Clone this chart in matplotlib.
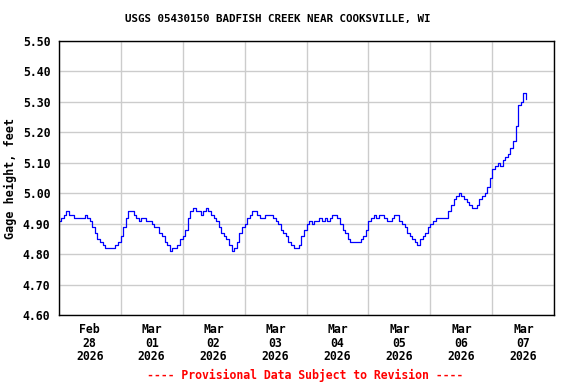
import numpy as np
import pandas as pd
import matplotlib
matplotlib.use("Agg")
import matplotlib.pyplot as plt
import matplotlib.dates as mdates
from matplotlib.ticker import NullFormatter

title = "USGS 05430150 BADFISH CREEK NEAR COOKSVILLE, WI"
ylabel = "Gage height, feet"
note = "---- Provisional Data Subject to Revision ----"

start = "2026-02-28 00:00"
x_range = ("2026-02-28", "2026-03-08")
yticks = [4.60, 4.70, 4.80, 4.90, 5.00, 5.10, 5.20, 5.30, 5.40, 5.50]

# hourly gage height (ft)
gage_ft = [
    # Feb 28
    4.91, 4.92, 4.93, 4.94, 4.93, 4.93, 4.92, 4.92, 4.92, 4.92, 4.93, 4.92,
    4.91, 4.89, 4.87, 4.85, 4.84, 4.83, 4.82, 4.82, 4.82, 4.82, 4.83, 4.84,
    # Mar 01
    4.86, 4.89, 4.92, 4.94, 4.94, 4.93, 4.92, 4.91, 4.92, 4.92, 4.91, 4.91,
    4.90, 4.89, 4.89, 4.87, 4.86, 4.84, 4.83, 4.81, 4.82, 4.82, 4.83, 4.85,
    # Mar 02
    4.86, 4.88, 4.92, 4.94, 4.95, 4.94, 4.94, 4.93, 4.94, 4.95, 4.94, 4.93,
    4.92, 4.91, 4.89, 4.87, 4.86, 4.85, 4.83, 4.81, 4.82, 4.84, 4.87, 4.89,
    # Mar 03
    4.90, 4.92, 4.93, 4.94, 4.94, 4.93, 4.92, 4.92, 4.93, 4.93, 4.93, 4.92,
    4.91, 4.90, 4.88, 4.87, 4.86, 4.84, 4.83, 4.82, 4.82, 4.83, 4.86, 4.88,
    # Mar 04
    4.90, 4.91, 4.90, 4.91, 4.91, 4.92, 4.91, 4.92, 4.91, 4.92, 4.93, 4.93,
    4.92, 4.90, 4.88, 4.87, 4.85, 4.84, 4.84, 4.84, 4.84, 4.85, 4.86, 4.88,
    # Mar 05
    4.91, 4.92, 4.93, 4.92, 4.93, 4.93, 4.92, 4.91, 4.91, 4.92, 4.93, 4.93,
    4.91, 4.90, 4.89, 4.87, 4.86, 4.85, 4.84, 4.83, 4.85, 4.86, 4.87, 4.89,
    # Mar 06
    4.90, 4.91, 4.92, 4.92, 4.92, 4.92, 4.92, 4.94, 4.96, 4.98, 4.99, 5.00,
    4.99, 4.98, 4.97, 4.96, 4.95, 4.95, 4.96, 4.98, 4.99, 5.00, 5.02, 5.05,
    # Mar 07
    5.08, 5.09, 5.10, 5.09, 5.11, 5.12, 5.13, 5.15, 5.17, 5.22, 5.29, 5.30,
    5.33, 5.31,
]

plt.rcParams["font.family"] = "DejaVu Sans Mono"
plt.rcParams["font.weight"] = "bold"
plt.rcParams["axes.labelweight"] = "bold"
plt.rcParams["font.size"] = 8.3

times = pd.date_range(start, periods=len(gage_ft), freq="h")

fig = plt.figure(figsize=(5.76, 3.84), dpi=100)
ax = fig.add_axes([58.7 / 576, 1 - 315 / 384, (554.3 - 58.7) / 576, (315 - 41) / 384])
ax.plot(times, gage_ft, color="#0000ff", lw=0.9, drawstyle="steps-post")

ax.set_xlim(pd.Timestamp(x_range[0]), pd.Timestamp(x_range[1]))
ax.set_ylim(yticks[0], yticks[-1])
ax.set_yticks(yticks)
ax.set_yticklabels([f"{v:.2f}" for v in yticks])

ax.xaxis.set_major_locator(mdates.DayLocator())
ax.xaxis.set_major_formatter(NullFormatter())
ax.xaxis.set_minor_locator(mdates.HourLocator(byhour=12))
ax.xaxis.set_minor_formatter(mdates.DateFormatter("%b\n%d\n%Y"))
for lab in ax.xaxis.get_minorticklabels():
    lab.set_linespacing(1.05)

ax.grid(which="major", color="#cccccc", lw=1)
ax.set_axisbelow(True)
ax.tick_params(which="both", length=0)
ax.tick_params(axis="x", which="minor", pad=6)
ax.tick_params(axis="y", pad=6)
for sp in ax.spines.values():
    sp.set_linewidth(1)

ax.set_ylabel(ylabel, labelpad=4, fontsize=8.5)
fig.text(278 / 576, 1 - 19 / 384, title, ha="center", va="center", fontsize=7.8)
fig.text(305 / 576, 1 - 375 / 384, note, ha="center", va="center", color="#ff0000")

fig.savefig("out.png", dpi=100)
